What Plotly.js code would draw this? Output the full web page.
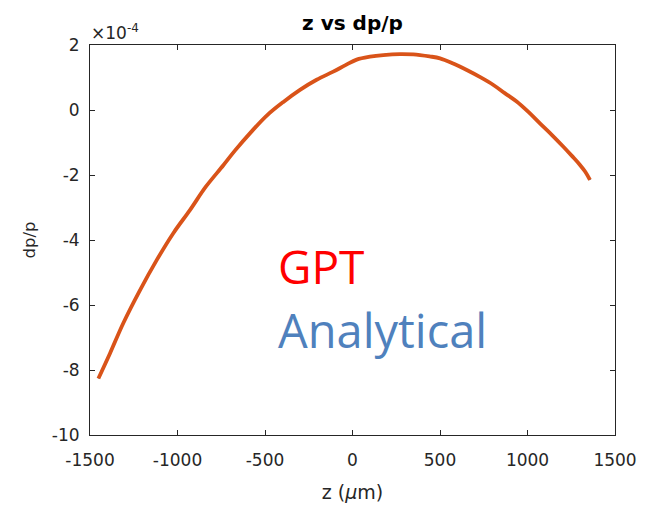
<!DOCTYPE html>
<html>
<head>
<meta charset="utf-8">
<script src="https://cdn.plot.ly/plotly-3.0.1.min.js"></script>
<style>html,body{margin:0;padding:0;background:#fff;}#chart{width:645px;height:506px;}</style>
</head>
<body>
<div id="chart"></div>
<script>
// z in micrometres, dp/p in units of 1e-4
var zValues = [-1452, -1386, -1310, -1214, -1119, -1024, -929, -838, -738, -672, -580, -490, -395, -300, -205, -110, -40, 24, 100, 176, 271, 347, 386, 440, 500, 575, 653, 730, 805, 870, 938, 1005, 1071, 1140, 1205, 1255, 1300, 1330, 1357];
var dppValues = [-8.26, -7.49, -6.56, -5.54, -4.62, -3.79, -3.08, -2.36, -1.70, -1.25, -0.68, -0.17, 0.25, 0.62, 0.93, 1.18, 1.38, 1.55, 1.64, 1.69, 1.72, 1.71, 1.69, 1.65, 1.59, 1.43, 1.23, 1.01, 0.77, 0.52, 0.26, -0.06, -0.41, -0.77, -1.13, -1.42, -1.69, -1.90, -2.15];
var xTicks = [-1500, -1000, -500, 0, 500, 1000, 1500];
var yTicks = [2, 0, -2, -4, -6, -8, -10];

var FONT = 'DejaVu Sans, Verdana, sans-serif';
var axisFont = {family: FONT, size: 17, color: '#262626'};

var traces = [
  {x: zValues, y: dppValues, type: 'scatter', mode: 'lines', name: 'Analytical',
   line: {color: '#0072BD', width: 2, shape: 'spline'}, hoverinfo: 'skip'},
  {x: zValues, y: dppValues, type: 'scatter', mode: 'lines', name: 'GPT',
   line: {color: '#D95319', width: 3.8, shape: 'spline'}}
];

var layout = {
  width: 645, height: 506,
  margin: {l: 90, r: 30, t: 45, b: 71},
  paper_bgcolor: '#ffffff', plot_bgcolor: '#ffffff',
  showlegend: false,
  font: {family: FONT},
  title: {text: '<b>z vs dp/p</b>', font: {family: FONT, size: 20, color: '#000'},
          xref: 'paper', x: 0.5, xanchor: 'center', yref: 'container', y: 0.955, yanchor: 'middle'},
  xaxis: {
    range: [-1500, 1500], tickvals: xTicks, ticktext: xTicks.map(String),
    ticks: 'inside', ticklen: 5, tickcolor: '#262626', mirror: 'ticks',
    showline: true, linecolor: '#262626', linewidth: 1, showgrid: false, zeroline: false,
    tickfont: axisFont, ticklabelstandoff: 10,
    title: {text: 'z (<i>μ</i>m)', font: {family: FONT, size: 19, color: '#262626'}, standoff: 16}
  },
  yaxis: {
    range: [-10, 2], tickvals: yTicks, ticktext: yTicks.map(String),
    ticks: 'inside', ticklen: 5, tickcolor: '#262626', mirror: 'ticks',
    showline: true, linecolor: '#262626', linewidth: 1, showgrid: false, zeroline: false,
    tickfont: axisFont, ticklabelstandoff: 6,
    title: {text: 'dp/p', font: {family: FONT, size: 16.5, color: '#262626'}, standoff: 12}
  },
  annotations: [
    {text: '×10<sup>-4</sup>', xref: 'paper', yref: 'paper', x: 0, y: 1, xanchor: 'left', yanchor: 'bottom',
     showarrow: false, font: {family: FONT, size: 17, color: '#262626'}, xshift: -1, yshift: 0},
    {text: 'GPT', xref: 'paper', yref: 'paper', x: 0.355, y: 0.433, xanchor: 'left', yanchor: 'middle',
     showarrow: false, font: {family: 'Open Sans, Noto Sans, sans-serif', size: 46, color: '#FF0000'}},
    {text: 'Analytical', xref: 'paper', yref: 'paper', x: 0.355, y: 0.27, xanchor: 'left', yanchor: 'middle',
     showarrow: false, font: {family: 'Open Sans, Noto Sans, sans-serif', size: 47, color: '#4F81BD'}}
  ]
};

Plotly.newPlot('chart', traces, layout, {staticPlot: true, displayModeBar: false});
</script>
</body>
</html>
